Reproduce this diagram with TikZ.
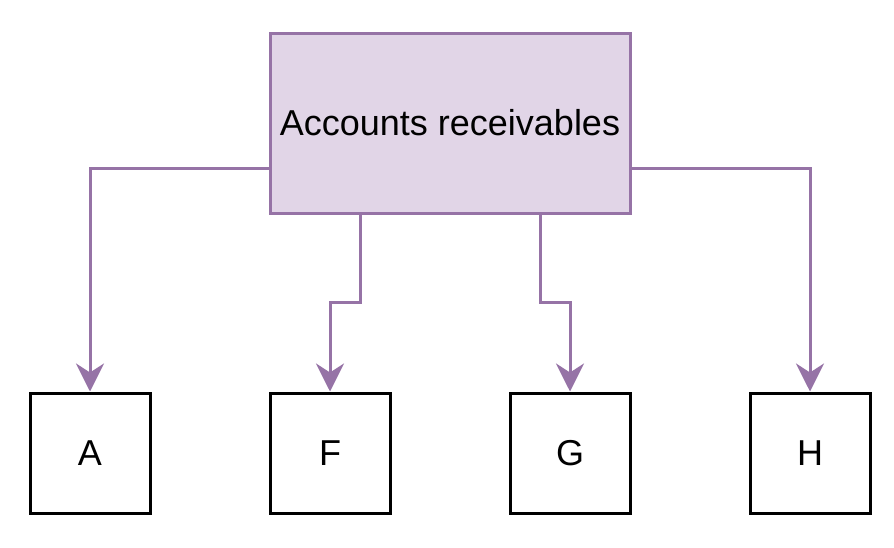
\documentclass[tikz,border=0pt]{standalone}
\usepackage{fontspec}
\setmainfont{Liberation Sans}
\usetikzlibrary{arrows.meta}
\definecolor{pfill}{HTML}{E1D5E7}
\definecolor{pline}{HTML}{9673A6}
\begin{document}
\begin{tikzpicture}[x=1pt,y=-1pt,
  topbox/.style={draw=pline,fill=pfill,line width=3pt,minimum width=360pt,minimum height=180pt,inner sep=0pt,font=\fontsize{36}{40}\selectfont},
  leafbox/.style={draw=black,fill=white,line width=3pt,minimum width=120pt,minimum height=120pt,inner sep=0pt,font=\fontsize{36}{40}\selectfont},
  conn/.style={draw=pline,line width=3pt,-{Stealth[length=28pt,width=28pt,inset=9pt]}}]
\useasboundingbox (0,0) rectangle (894,547);
\node[topbox] (top) at (450,123) {Accounts receivables};
\node[leafbox] (a) at (90,453) {A};
\node[leafbox] (f) at (330,453) {F};
\node[leafbox] (g) at (570,453) {G};
\node[leafbox] (h) at (810,453) {H};
\draw[conn] (top.west |- 0,168) -| (a.north);
\draw[conn] (top.east |- 0,168) -| (h.north);
\draw[conn] (top.south -| 360,0) -- (360,302) -| (f.north);
\draw[conn] (top.south -| 540,0) -- (540,302) -| (g.north);
\end{tikzpicture}
\end{document}
